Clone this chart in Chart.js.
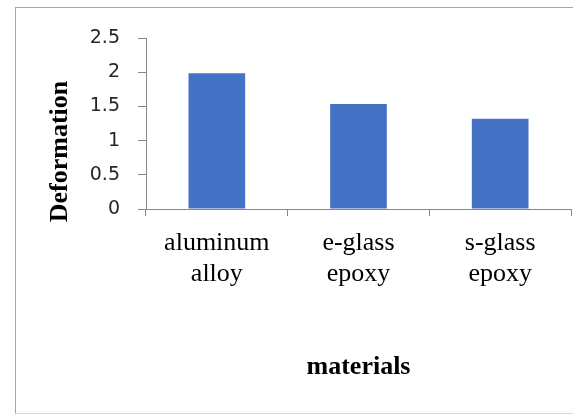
<!DOCTYPE html>
<html>
<head>
<meta charset="utf-8">
<script src="https://cdn.jsdelivr.net/npm/chart.js@4"></script>
<style>
    body { margin: 0; background: #fff; overflow: hidden; }
    #wrap { position: relative; width: 573px; height: 414px; overflow: hidden; }
    #frame {
        position: absolute; left: 15px; top: 7px; width: 600px; height: 405px;
        border: 1px solid #a6a6a6; border-right: none; border-bottom-color: #d9d9d9;
        pointer-events: none;
    }
    canvas { position: absolute; left: 0; top: 0; }
</style>
</head>
<body>
<div id="wrap">
    <canvas id="deformationChart" width="573" height="414"></canvas>
    <div id="frame"></div>
</div>
<script>
// Chart data
const materials = [['aluminum', 'alloy'], ['e-glass', 'epoxy'], ['s-glass', 'epoxy']];
const deformation = [1.985, 1.535, 1.32];
const yTicks = [0, 0.5, 1, 1.5, 2, 2.5];
const yTitle = 'Deformation';

const axisGray = '#868686';

// Excel places the value-axis title a little below the middle of the axis
const yTitlePlugin = {
    id: 'yTitlePlugin',
    afterDraw: function(chart) {
        const area = chart.chartArea;
        const c = chart.ctx;
        c.save();
        c.translate(60, (area.top + area.bottom) / 2 + 28);
        c.rotate(-Math.PI / 2);
        c.font = 'bold 26px "Liberation Serif"';
        c.fillStyle = '#000';
        c.textAlign = 'center';
        c.textBaseline = 'middle';
        c.fillText(yTitle, 0, 0);
        c.restore();
    }
};

document.addEventListener('DOMContentLoaded', function() {
    initializeChart();
});

function initializeChart() {
    const ctx = document.getElementById('deformationChart');

    new Chart(ctx, {
        type: 'bar',
        data: {
            labels: materials,
            datasets: [{
                label: yTitle,
                data: deformation,
                backgroundColor: '#4472C4',
                borderWidth: 0,
                categoryPercentage: 1,
                barPercentage: 0.4
            }]
        },
        plugins: [yTitlePlugin],
        options: {
            responsive: false,
            animation: false,
            layout: { padding: { top: 38, right: 2, bottom: 0, left: 0 } },
            plugins: {
                legend: { display: false },
                tooltip: { enabled: false }
            },
            scales: {
                x: {
                    grid: {
                        offset: true,
                        drawOnChartArea: false,
                        drawTicks: true,
                        tickLength: 7,
                        color: axisGray
                    },
                    border: { color: axisGray, width: 1 },
                    ticks: {
                        color: '#000',
                        padding: 11,
                        maxRotation: 0,
                        font: { family: 'Liberation Serif', size: 26, lineHeight: 1.22 }
                    },
                    title: {
                        display: true,
                        text: 'materials',
                        color: '#000',
                        padding: { top: 0, bottom: 31 },
                        font: { family: 'Liberation Serif', size: 26, weight: 'bold' }
                    },
                    afterFit: function(scale) { scale.height = 205; }
                },
                y: {
                    min: 0,
                    max: 2.5,
                    afterBuildTicks: function(scale) {
                        scale.ticks = yTicks.map(v => ({ value: v }));
                    },
                    grid: {
                        drawOnChartArea: false,
                        drawTicks: true,
                        tickLength: 8,
                        color: axisGray
                    },
                    border: { color: axisGray, width: 1 },
                    ticks: {
                        color: '#262626',
                        padding: 18,
                        font: { family: 'DejaVu Sans', size: 19 },
                        callback: function(value) { return String(value); }
                    },
                    afterFit: function(scale) { scale.width = 146; }
                }
            }
        }
    });
}
</script>
</body>
</html>
